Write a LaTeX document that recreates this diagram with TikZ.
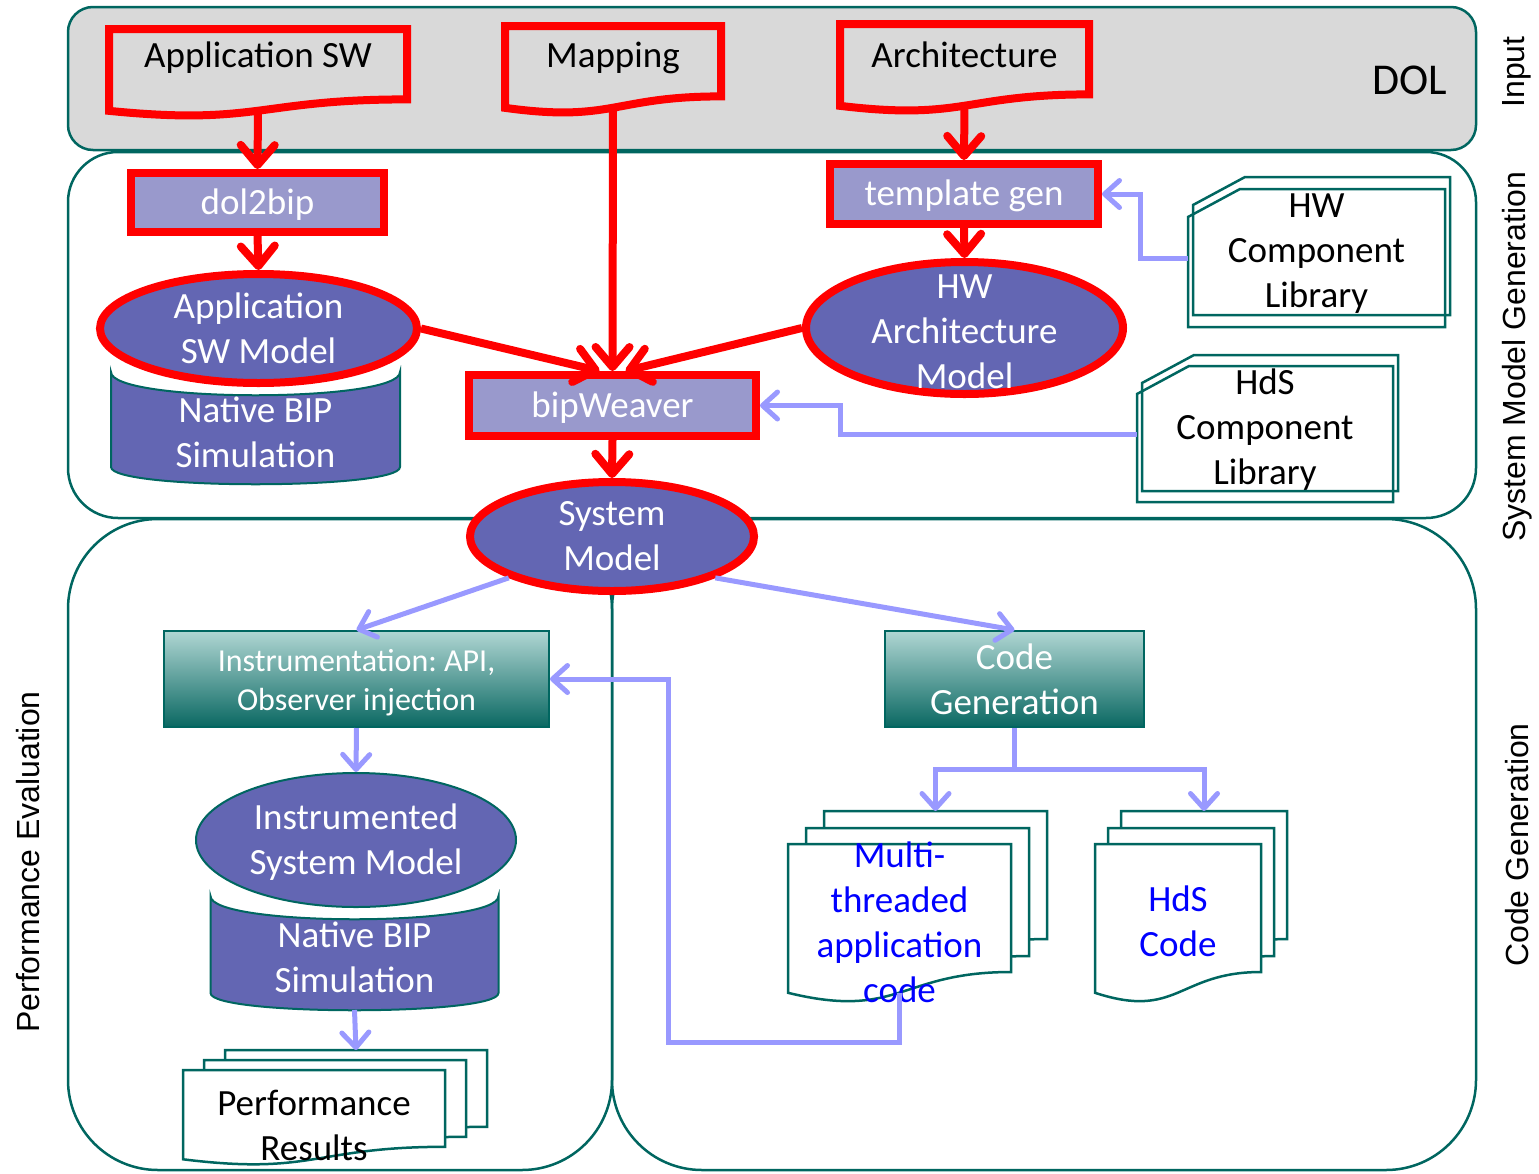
\documentclass[tikz,border=0pt]{standalone}
\usepackage{fontspec}
\setmainfont{Carlito}
\newfontfamily\sidefont{Liberation Sans}
\usetikzlibrary{arrows.meta,calc,shapes.geometric}
\frenchspacing

\pgfdeclarelayer{panel}
\pgfdeclarelayer{paper}
\pgfsetlayers{panel,paper,main}

\definecolor{frameteal}{RGB}{0,102,96}
\definecolor{bandgray}{RGB}{217,217,217}
\definecolor{modelblue}{RGB}{99,102,179}
\definecolor{toolblue}{RGB}{153,153,204}
\definecolor{flowblue}{RGB}{153,153,255}
\definecolor{gradtop}{RGB}{176,214,211}
\definecolor{gradmid}{RGB}{112,168,163}
\definecolor{gradbot}{RGB}{10,104,98}
\definecolor{codeblue}{RGB}{0,0,255}

\tikzset{
  big/.style={font=\fontsize{37}{45}\selectfont},
  small/.style={font=\fontsize{32}{39}\selectfont},
  redline/.style={draw=red, line width=8pt},
  tool/.style={rectangle, redline, fill=toolblue, text=white, big, inner sep=0pt,
    text height=31pt, text depth=8pt},
  model/.style={ellipse, redline, fill=modelblue, inner sep=0pt},
  plainmodel/.style={ellipse, draw=frameteal, line width=2pt, fill=modelblue, inner sep=0pt},
  modeltext/.style={text=white, big, align=center},
  doctext/.style={big},
  libtext/.style={big, align=center},
  codetext/.style={big, align=center, text=codeblue},
  stage/.style={rectangle, draw=frameteal, line width=2pt, top color=gradtop,
    middle color=gradmid, bottom color=gradbot, inner sep=0pt},
  stagetext/.style={text=white, align=center},
  sheet/.style={rectangle, inner sep=0pt, outer sep=0pt},
  page/.style={draw=frameteal, line width=2.5pt, fill=white},
  libline/.style={draw=frameteal, line width=2.5pt},
  panelbox/.style={draw=frameteal, line width=2.5pt},
  flow/.style={draw=flowblue, line width=5pt, -{Straight Barb[length=15pt,width=27pt,round]}},
  redflow/.style={draw=red, line width=8pt, -{Straight Barb[length=20pt,width=34pt,round]}},
  side/.style={font=\sidefont\fontsize{32}{36}\selectfont, rotate=90},
}

% sheet with a wavy lower edge, drawn round the box of node #1 and moved by #2
\newcommand\wave[2]{($(#1.north west)+#2$) -- ($(#1.north east)+#2$)
  -- ($(#1.north east)!.8!(#1.south east)+#2$)
  .. controls ($(#1.north)!.8!(#1.south)+#2$) and ($(#1.north)!1.1!(#1.south)+#2$)
  .. ($(#1.north west)!.93!(#1.south west)+#2$) -- cycle}
% library sheet with a cut corner
\newcommand\snip[2]{($(#1.north west)+(0,28)+#2$) -- ($(#1.north west)+(52,0)+#2$)
  -- ($(#1.north east)+#2$) -- ($(#1.south east)+#2$) -- ($(#1.south west)+#2$) -- cycle}
% lower half of a cylinder
\newcommand\drum[1]{(#1.north west) -- ($(#1.south west)+(0,-17)$)
  .. controls ($(#1.south west)+(0,6)$) and ($(#1.south east)+(0,6)$) .. ($(#1.south east)+(0,-17)$)
  -- (#1.north east) .. controls ($(#1.north east)+(0,31)$) and ($(#1.north west)+(0,31)$) .. (#1.north west) -- cycle}

\begin{document}
\begin{tikzpicture}[x=1pt,y=-1pt]
\useasboundingbox (0,0) rectangle (1539,1173);

% the four stages
\begin{pgfonlayer}{panel}
\draw[panelbox,fill=bandgray,rounded corners=25pt] (68,7) rectangle (1476,150);
\draw[panelbox,rounded corners=50pt] (68,152) rectangle (1476,518);
\draw[panelbox,rounded corners=90pt] (68,519) rectangle (612,1170);
\draw[panelbox,rounded corners=90pt] (612,519) rectangle (1476,1170);
\end{pgfonlayer}

\node[side] (lin) at (1517,72) {Input};
\node[side] (lsmg) at (1517,357) {System Model Generation};
\node[side] (lcg) at (1517,845) {Code Generation};
\node[side] (lpe) at (28,862) {Performance Evaluation};
\node[font=\fontsize{44}{50}\selectfont] (dol) at (1410,80) {DOL};

% inputs
\node[sheet,minimum width=298pt,minimum height=88pt,label={[doctext,yshift=15pt]center:Application SW}] (appsw) at (258,73) {};
\node[sheet,minimum width=216pt,minimum height=88pt,label={[doctext,yshift=12pt]center:Mapping}] (map) at (613,70) {};
\node[sheet,minimum width=249pt,minimum height=88pt,label={[doctext,yshift=13pt]center:Architecture}] (arch) at (964.5,68) {};

% tools and models
\node[tool,minimum width=253pt,minimum height=59pt] (dol2bip) at (257.5,202.5) {dol2bip};
\node[tool,minimum width=268pt,minimum height=60pt] (tgen) at (964,194) {template gen};
\node[tool,minimum width=287pt,minimum height=61pt] (bipw) at (612.5,405.5) {bipWeaver};
\node[model,minimum width=317pt,minimum height=109pt,label={[modeltext]center:Application\\SW Model}] (appswm) at (258.5,328.5) {};
\node[model,minimum width=317pt,minimum height=132pt,label={[modeltext,yshift=-4pt]center:HW\\Architecture\\Model}] (hwm) at (964.5,328) {};
\node[model,minimum width=284pt,minimum height=109pt,label={[modeltext]center:System\\Model}] (sysm) at (612,536.5) {};
\node[sheet,minimum width=289pt,minimum height=112pt,label={[modeltext,yshift=-4pt]center:Native BIP\\Simulation}] (appsim) at (255.5,428) {};

\node[sheet,minimum width=257pt,minimum height=138pt,label={[libtext,yshift=4pt]center:HW\\Component\\Library}] (hwlib) at (1316.5,258) {};
\node[sheet,minimum width=256pt,minimum height=136pt,label={[libtext,yshift=4pt]center:HdS\\Component\\Library}] (hdslib) at (1265,434) {};

% performance evaluation
\node[stage,minimum width=385pt,minimum height=96pt,label={[stagetext,small,yshift=-4pt]center:Instrumentation: API,\\Observer injection}] (instr) at (356.5,679) {};
\node[plainmodel,minimum width=320pt,minimum height=134pt,label={[modeltext,yshift=-2pt]center:Instrumented\\System Model}] (instrm) at (356,840) {};
\node[sheet,minimum width=288pt,minimum height=114pt,label={[modeltext,yshift=-4pt]center:Native BIP\\Simulation}] (sysim) at (354.5,953) {};
\node[sheet,minimum width=262pt,minimum height=96pt,label={[libtext,yshift=-7pt]center:Performance\\Results}] (perf) at (314,1118) {};

% code generation
\node[stage,minimum width=259pt,minimum height=96pt,label={[stagetext,big]center:Code\\Generation}] (codegen) at (1014.5,679) {};
\node[sheet,minimum width=223pt,minimum height=160pt,label={[codetext,yshift=2pt]center:Multi-\\threaded\\application\\code}] (multi) at (899.5,924) {};
\node[sheet,minimum width=166pt,minimum height=160pt,label={[codetext,yshift=3pt]center:HdS\\Code}] (hds) at (1178,924) {};

\coordinate (ptop) at ($(perf.north)+(42,-20)$);
\coordinate (mtop) at ($(multi.north)+(36,-33)$);
\coordinate (htop) at ($(hds.north)+(26,-33)$);

\begin{pgfonlayer}{paper}
\foreach \d in {appsw,map,arch} \draw[redline] \wave{\d}{(0,0)};
\draw[draw=frameteal,line width=2pt,fill=modelblue] \drum{appsim};
\draw[draw=frameteal,line width=2pt,fill=modelblue] \drum{sysim};
\foreach \dx/\dy in {42/-20,21/-10,0/0} \draw[page] \wave{perf}{(\dx,\dy)};
\foreach \dx/\dy in {36/-33,18/-16,0/0} \draw[page] \wave{multi}{(\dx,\dy)};
\foreach \dx/\dy in {26/-33,13/-16,0/0} \draw[page] \wave{hds}{(\dx,\dy)};
\end{pgfonlayer}

\draw[libline] \snip{hwlib}{(5,-12)};
\draw[libline] \snip{hwlib}{(0,0)};
\draw[libline] \snip{hdslib}{(5,-11)};
\draw[libline] \snip{hdslib}{(0,0)};

% tool chain
\draw[redflow] ($(appsw.north)!.93!(appsw.south)$) -- (dol2bip.north);
\draw[redflow] (dol2bip.south) -- (appswm.north);
\draw[redflow] ($(arch.north)!.93!(arch.south)$) -- (tgen.north);
\draw[redflow] (tgen.south) -- (hwm.north);
\draw[redflow] ($(map.north)!.93!(map.south)$) -- (bipw.north);
\draw[redflow] (appswm.east) -- ($(bipw.north)+(-13,0)$);
\draw[redflow] (hwm.west) -- ($(bipw.north)+(13,0)$);
\draw[redflow] (bipw.south) -- (sysm.north);

\draw[flow] (hwlib.west) -- ++(-48,0) |- (tgen.east);
\draw[flow] (hdslib.west) -- ++(-297,0) |- (bipw.east);
\draw[flow] (sysm.south west) -- (instr.north);
\draw[flow] (sysm.south east) -- (codegen.north);
\draw[flow] (instr.south) -- (instrm.north);
\draw[flow] (sysim.south) -- (ptop);
\draw[flow] (codegen.south) -- ++(0,41) -| (mtop);
\draw[flow] (codegen.south) -- ++(0,41) -| (htop);
\draw[flow] ($(multi.north)!.93!(multi.south)$) -- ++(0,50) -| ($(instr.east)+(118,0)$) -- (instr.east);
\end{tikzpicture}
\end{document}
